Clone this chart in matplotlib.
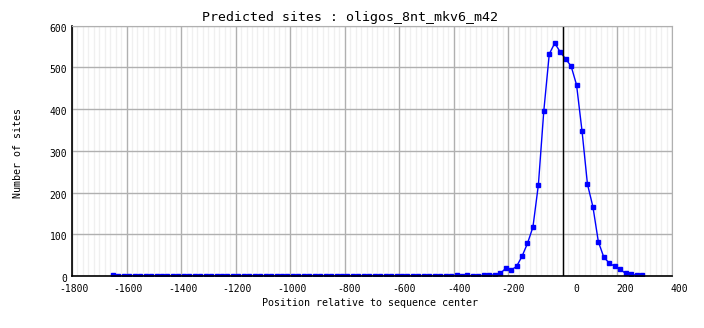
import matplotlib
matplotlib.use('Agg')
import matplotlib.pyplot as plt
from matplotlib.ticker import MultipleLocator
from matplotlib.transforms import ScaledTranslation

# bin centres (relative to sequence center) and number of predicted sites
positions = [
    -1650, -1630, -1610, -1590, -1570, -1550, -1530, -1510, -1490, -1470,
    -1450, -1430, -1410, -1390, -1370, -1350, -1330, -1310, -1290, -1270,
    -1250, -1230, -1210, -1190, -1170, -1150, -1130, -1110, -1090, -1070,
    -1050, -1030, -1010, -990, -970, -950, -930, -910, -890, -870,
    -850, -830, -810, -790, -770, -750, -730, -710, -690, -670,
    -650, -630, -610, -590, -570, -550, -530, -510, -490, -470,
    -450, -430, -410, -390, -370, -350, -330, -310, -290, -270,
    -250, -230, -210, -190, -170, -150, -130, -110, -90, -70,
    -50, -30, -10, 10, 30, 50, 70, 90, 110, 130,
    150, 170, 190, 210, 230, 250, 270, 290,
]
sites = [
    3, 0, 0, 0, 0, 0, 0, 0, 0, 0,
    0, 0, 0, 0, 0, 0, 0, 0, 0, 0,
    0, 0, 0, 0, 0, 0, 0, 0, 0, 0,
    0, 0, 0, 0, 0, 0, 0, 0, 0, 0,
    0, 0, 0, 0, 0, 0, 0, 0, 0, 0,
    0, 0, 0, 0, 0, 0, 0, 0, 0, 0,
    0, 0, 0, 2, 0, 2, 0, 0, 2, 3,
    2, 6, 18, 14, 23, 47, 78, 117, 218, 396,
    532, 558, 537, 520, 503, 458, 348, 220, 166, 82,
    45, 31, 23, 16, 6, 4, 2, 2,
]
center = 0

title = 'Predicted sites : oligos_8nt_mkv6_m42'
xlabel = 'Position relative to sequence center'
ylabel = 'Number of sites'

plt.rcParams['font.family'] = ['DejaVu Sans Mono', 'DejaVu Sans']
plt.rcParams['axes.unicode_minus'] = False

fig = plt.figure(figsize=(7.04, 3.28), dpi=100)
ax = fig.add_axes([72/704, 1-276/328, 600/704, 250.4/328])
ax.set_xlim(-1800, 400)
ax.set_ylim(0, 600)
ax.xaxis.set_major_locator(MultipleLocator(200))
ax.xaxis.set_minor_locator(MultipleLocator(20))
ax.yaxis.set_major_locator(MultipleLocator(100))
ax.grid(which='major', color='#b0b0b0', lw=1)
ax.grid(which='minor', axis='x', color='#f0f0f0', lw=1)
ax.set_axisbelow(True)

ax.plot(positions, sites, '-', color='#0000ff', lw=1,
        marker='s', ms=2.4, mec='#0000ff', mfc='#0000ff')
ax.axvline(center, color='black', lw=1)

for side in ['top', 'right']:
    ax.spines[side].set_color('#b0b0b0')
for side in ['left', 'bottom']:
    ax.spines[side].set_color('black')
    ax.spines[side].set_linewidth(1.2)

ax.tick_params(which='both', length=0, labelsize=7)
ax.tick_params(axis='x', pad=5.5)
ax.tick_params(axis='y', pad=3.5)
shift_x = ScaledTranslation(16.5/100, 0, fig.dpi_scale_trans)
for lab in ax.get_xticklabels():
    lab.set_horizontalalignment('right')
    lab.set_transform(lab.get_transform() + shift_x)
shift_y = ScaledTranslation(0, -2/100, fig.dpi_scale_trans)
for lab in ax.get_yticklabels():
    lab.set_transform(lab.get_transform() + shift_y)

fig.text(350/704, 1-18/328, title, ha='center', va='center', fontsize=9.5)
fig.text(370/704, 1-303/328, xlabel, ha='center', va='center', fontsize=7.2)
fig.text(18/704, 1-153/328, ylabel, ha='center', va='center',
         rotation=90, fontsize=7.2)

fig.savefig('out.png', dpi=100)
